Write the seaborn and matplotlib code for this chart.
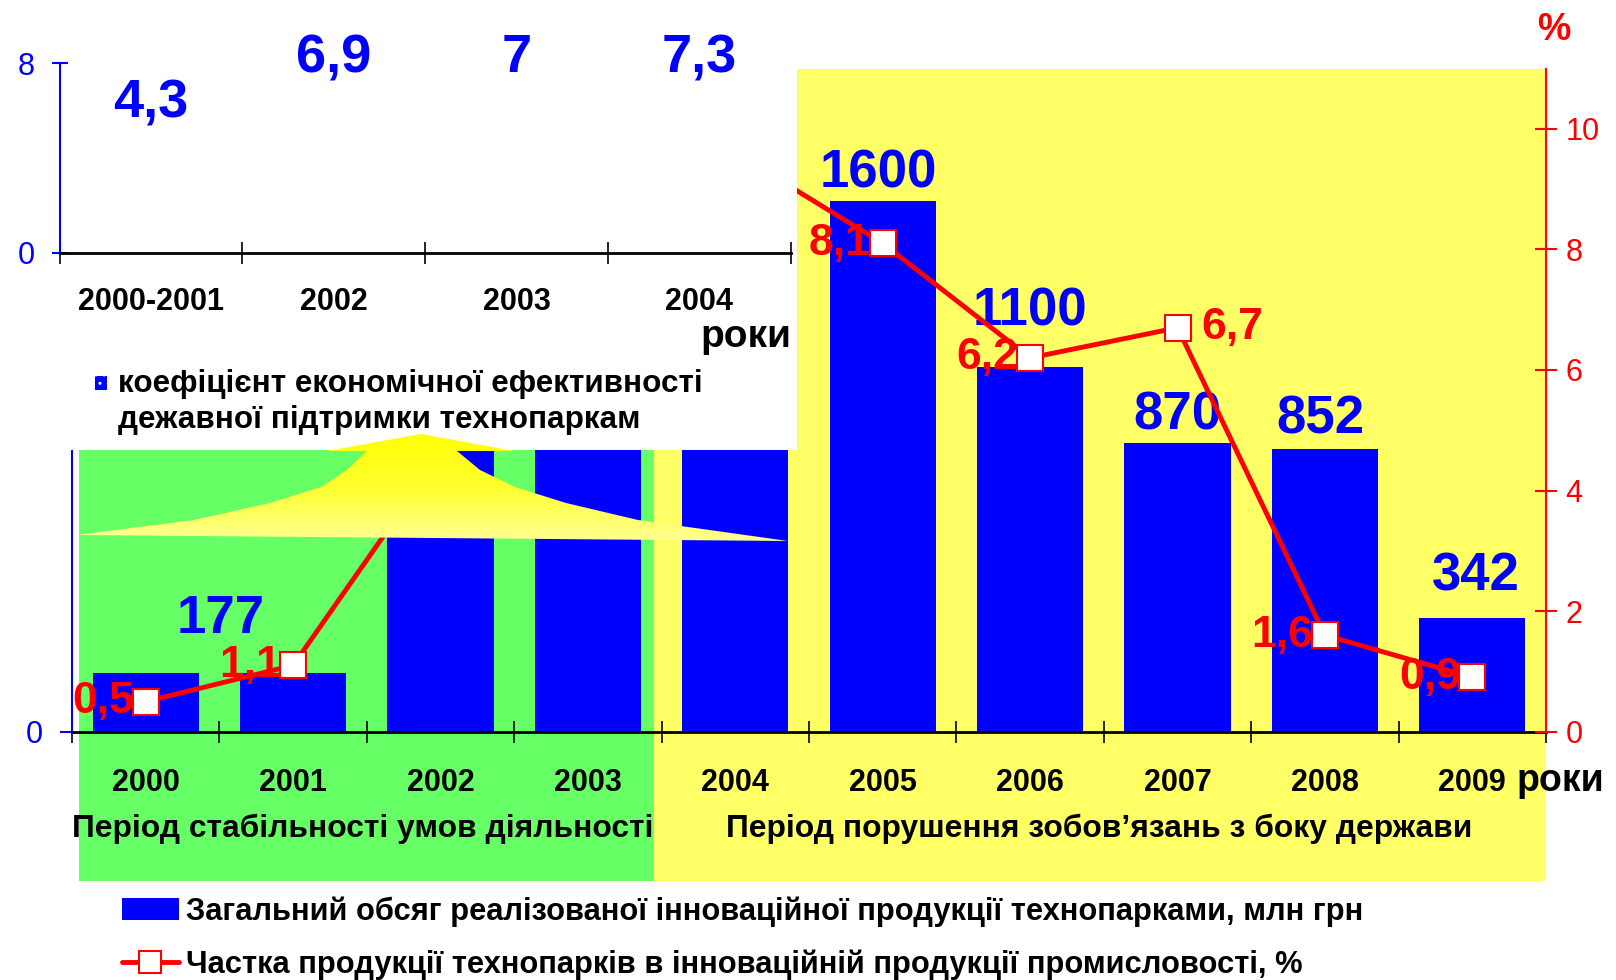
import numpy as np
import pandas as pd
import matplotlib
matplotlib.use('Agg')
import matplotlib.pyplot as plt
from matplotlib.patches import Rectangle, Polygon
from matplotlib.colors import LinearSegmentedColormap
from matplotlib.transforms import blended_transform_factory
import seaborn as sns

# Дані
years = ['2000', '2001', '2002', '2003', '2004', '2005', '2006', '2007', '2008', '2009']
volume = [177, 177, 1000, 1250, 1450, 1600, 1100, 870, 852, 342]
share = [0.5, 1.1, 4.6, 7.2, 9.6, 8.1, 6.2, 6.7, 1.6, 0.9]
volume_labels = ['', '177', '', '', '', '1600', '1100', '870', '852', '342']
share_labels = ['0,5', '1,1', '', '', '', '8,1', '6,2', '6,7', '1,6', '0,9']

coef_periods = ['2000-2001', '2002', '2003', '2004']
coef_values = [4.3, 6.9, 7.0, 7.3]
coef_labels = ['4,3', '6,9', '7', '7,3']

periods = ['Період стабільності умов діяльності',
           'Період порушення зобов’язань з боку держави']
legend_labels = ['Загальний обсяг реалізованої інноваційної продукції технопарками, млн грн',
                 'Частка продукції технопарків в інноваційній продукції промисловості, %']
coef_legend = 'коефіцієнт економічної ефективності\nдежавної підтримки технопаркам'

# Зсуви підписів (у точках) та кольори
label_dx = [0, -0.49, 0, 0, 0, -0.03, 0, 0, -0.03, 0.02]
label_dy = [0, 39, 0, 0, 0, 20, 40, 20, 21, 30]
BLUE, RED, GREEN, YELLOW = '#0000FF', '#FF0000', '#66FF66', '#FFFF66'

sns.set_theme(style='white')
plt.rcParams['font.family'] = ['Liberation Sans', 'DejaVu Sans']
plt.rcParams['font.weight'] = 'bold'
plt.rcParams['text.color'] = 'black'

fig = plt.figure(figsize=(16.16, 9.8), dpi=100)
ax = fig.add_axes([0.0446, 0.2534, 0.9121, 0.6767])
ax.set_facecolor('none')

# Фон періодів
trans = blended_transform_factory(ax.transData, ax.transAxes)
ax.add_patch(Rectangle((-0.45, -0.225), 3.895, 1.225, transform=trans, color=GREEN,
                       clip_on=False, zorder=0, lw=0))
ax.add_patch(Rectangle((3.445, -0.225), 6.055, 1.225, transform=trans, color=YELLOW,
                       clip_on=False, zorder=0, lw=0))

df = pd.DataFrame({'year': years, 'volume': volume, 'share': share})
sns.barplot(data=df, x='year', y='volume', color=BLUE, saturation=1, width=0.72,
            linewidth=0, ax=ax, zorder=2)
for i, lab in enumerate(volume_labels):
    if lab:
        ax.annotate(lab, (i + label_dx[i], volume[i]), xytext=(0, label_dy[i]),
                    textcoords='offset points', ha='center', va='center',
                    fontsize=38, color=BLUE, fontweight='bold', zorder=3)

ax.set_xlim(-0.5, 9.5)
ax.set_ylim(0, 2000)
ax.set_xlabel('')
ax.set_ylabel('')
ax.set_xticks(range(len(years)), years)
ax.set_xticks(np.arange(-0.5, 10, 1), minor=True)
ax.tick_params(axis='x', which='major', length=0, pad=26, labelsize=22, labelcolor='black')
ax.tick_params(axis='x', which='minor', length=16, width=1.2, direction='inout', color='black', bottom=True)
ax.set_yticks([0])
ax.tick_params(axis='y', length=9, width=1.5, color=BLUE, labelcolor=BLUE, labelsize=22, pad=12, left=True)
for t in ax.get_yticklabels():
    t.set_fontweight('normal')
for s in ['top', 'right']:
    ax.spines[s].set_visible(False)
ax.spines['bottom'].set_color('black')
ax.spines['bottom'].set_linewidth(2)
ax.spines['left'].set_color(BLUE)
ax.spines['left'].set_linewidth(1.5)

# Права вісь, частка у %
ax2 = ax.twinx()
sns.lineplot(x=np.arange(len(share)), y=share, ax=ax2, color=RED, lw=3.5, marker='s',
             markersize=19, markerfacecolor='white', markeredgecolor=RED,
             markeredgewidth=1.5, zorder=5)
for i, lab in enumerate(share_labels):
    if not lab:
        continue
    if lab == '6,7':
        ax2.text(i + 0.16, share[i], lab, ha='left', va='center', fontsize=32, color=RED, zorder=4)
    else:
        ax2.text(i - 0.08, share[i], lab, ha='right', va='center', fontsize=32, color=RED, zorder=4)
ax2.set_ylim(0, 11)
ax2.set_xlim(-0.5, 9.5)
ax2.set_yticks(range(0, 11, 2))
ax2.tick_params(axis='y', length=16, width=1.5, direction='inout', color=RED, labelcolor=RED,
                labelsize=22, pad=6, right=True)
for t in ax2.get_yticklabels():
    t.set_fontweight('normal')
for s in ['top', 'left', 'bottom']:
    ax2.spines[s].set_visible(False)
ax2.spines['right'].set_color(RED)
ax2.spines['right'].set_linewidth(1.5)
ax2.text(1.005, 1.058, '%', transform=ax2.transAxes, ha='center', va='center', fontsize=27, color=RED)

# Підписи періодів
for xc, txt in zip([1.47, 6.47], periods):
    ax.text(xc, -0.146, txt, transform=trans, ha='center', va='center', fontsize=22.9, color='black')
fig.text(0.9387, 0.2035, 'роки', ha='left', va='center', fontsize=27)

# Біла вставка
fig.patches.append(Rectangle((0, 0.5404), 0.493, 0.4596, transform=fig.transFigure,
                             facecolor='white', edgecolor='none', zorder=3))

# "Лійка" до вставки
ov = fig.add_axes([0, 0, 1, 1], zorder=4)
ov.axis('off')
ov.patch.set_alpha(0)
funnel = [(421, 434), (515, 451), (457, 451), (480, 470), (515, 487), (566, 503), (638, 520),
          (788, 541), (77, 535), (194, 520), (270, 503), (321, 487), (347, 470), (367, 451), (327, 451)]
poly = Polygon(funnel, closed=True, facecolor='none', edgecolor='none')
ov.add_patch(poly)
cmap = LinearSegmentedColormap.from_list('fy', ['#FFFF00', '#FFFF30', '#FFFF99'])
grad = ov.imshow(np.linspace(0, 1, 100).reshape(-1, 1), cmap=cmap, aspect='auto',
                 extent=(60, 800, 545, 430), interpolation='bilinear')
grad.set_clip_path(poly)
ov.set_xlim(0, 1616)
ov.set_ylim(980, 0)

# Вставка: коефіцієнт ефективності
axin = fig.add_axes([0.0370, 0.7423, 0.4522, 0.1934], zorder=5)
axin.set_facecolor('none')
sns.barplot(x=coef_periods, y=coef_values, color='white', saturation=1, linewidth=0, ax=axin)
for i, lab in enumerate(coef_labels):
    axin.text(i, min(coef_values[i] + 2.0, 8.2), lab, ha='center', va='center',
              fontsize=39, color=BLUE, clip_on=False)
axin.set_xlim(-0.5, 3.5)
axin.set_ylim(0, 8)
axin.set_xlabel('')
axin.set_ylabel('')
axin.set_xticks(np.arange(-0.5, 4, 1), minor=True)
axin.tick_params(axis='x', which='major', length=0, pad=25, labelsize=22, labelcolor='black')
axin.tick_params(axis='x', which='minor', length=16, width=1.2, direction='inout', color='black', bottom=True)
axin.set_yticks([0, 8])
axin.tick_params(axis='y', length=12, width=1.5, direction='inout', color=BLUE, labelcolor=BLUE,
                 labelsize=22, pad=12, left=True)
for t in axin.get_yticklabels():
    t.set_fontweight('normal')
for s in ['top', 'right']:
    axin.spines[s].set_visible(False)
axin.spines['bottom'].set_color('black')
axin.spines['bottom'].set_linewidth(2)
axin.spines['left'].set_color(BLUE)
axin.spines['left'].set_linewidth(1.5)
fig.text(0.4898, 0.6561, 'роки', ha='right', va='center', fontsize=28, zorder=6)

fig.patches.append(Rectangle((0.0588, 0.6025), 0.0077, 0.0135, transform=fig.transFigure,
                             facecolor=BLUE, edgecolor='white', hatch='..', lw=0, zorder=6))
fig.text(0.0733, 0.5898, coef_legend, ha='left', va='center', fontsize=22.6,
         linespacing=1.27, zorder=6)

# Легенда
fig.legend(handles=[ax.containers[0], ax2.lines[0]], labels=legend_labels,
           loc='center left', bbox_to_anchor=(0.0753, 0.0425), frameon=False,
           fontsize=22.2, handlelength=1.85, handleheight=0.75, handletextpad=0.25,
           labelspacing=0.74, borderpad=0, borderaxespad=0, markerscale=0.8,
           labelcolor='black')

fig.savefig('out.png', dpi=100)
